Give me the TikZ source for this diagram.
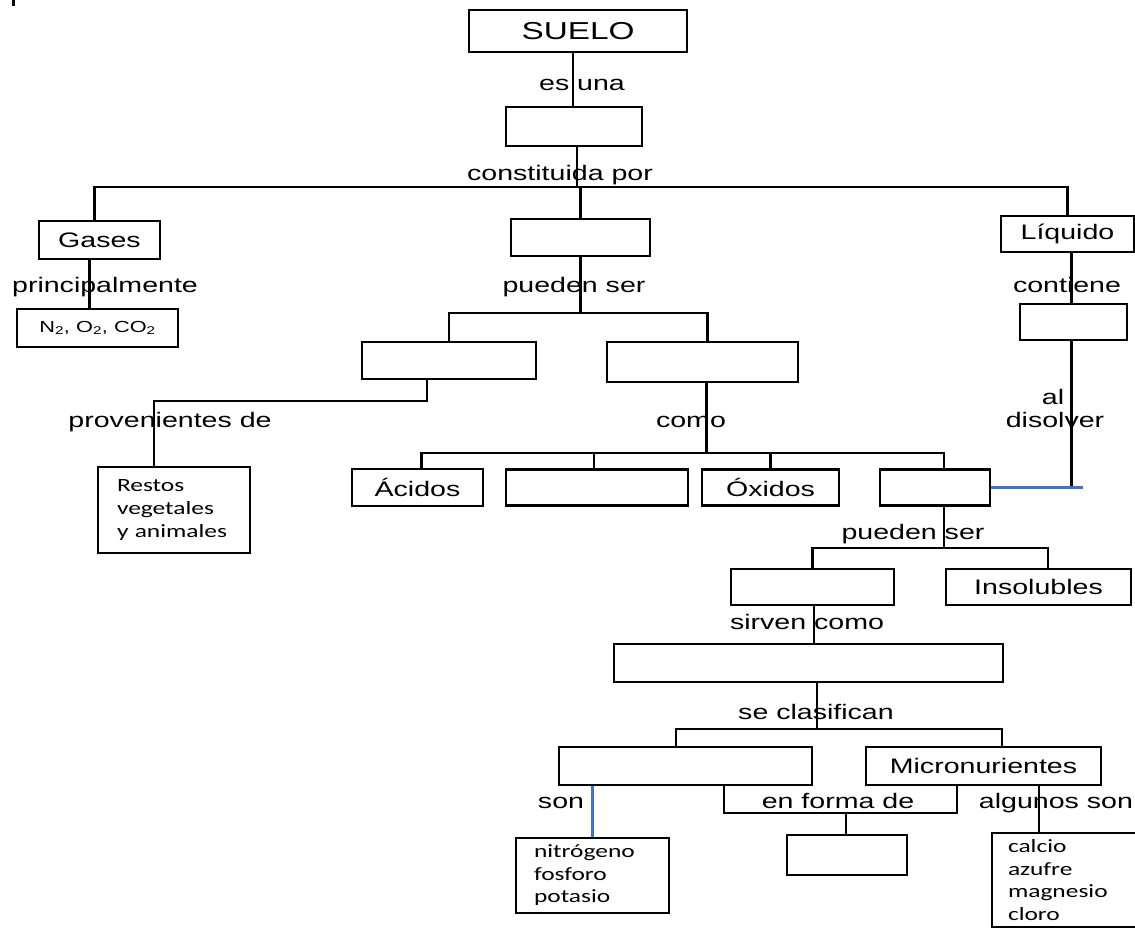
\documentclass[tikz,border=0pt]{standalone}
\usepackage{fontspec}
\setmainfont{Liberation Sans}[FakeStretch=1.36]
\newfontfamily\calfont{Carlito}[FakeStretch=1.36]
\usepackage{tikz}
\usetikzlibrary{positioning,calc}
\definecolor{lineblue}{HTML}{4472C4}

\begin{document}
\begin{tikzpicture}[
        x=1pt, y=-1pt,
        box/.style={rectangle, draw, line width=2.2pt, inner sep=0pt, font=\fontsize{21}{25}\selectfont},
        listbox/.style={box, align=left, inner xsep=17pt, font=\calfont\fontsize{18.7}{22.5}\selectfont},
        lbl/.style={inner sep=0pt, yshift=-3pt, text height=1.5ex, text depth=.25ex, font=\fontsize{21}{25}\selectfont},
        link/.style={line width=2.2pt},
        bluelink/.style={line width=2.2pt, lineblue}
    ]
        \useasboundingbox (0,0) rectangle (1135,929);
        \fill (12,0) rectangle (14.5,6);

        \node[box, minimum width=218pt, minimum height=42pt, font=\fontsize{24.5}{28}\selectfont] (suelo) at (578,31) {SUELO};
        \node[box, minimum width=136pt, minimum height=39pt] (esuna) at (574,126.5) {};
        \node[box, minimum width=121pt, minimum height=38pt] (gases) at (99.5,240) {Gases};
        \node[box, minimum width=161pt, minimum height=38pt, font=\fontsize{16}{19}\selectfont] (gaslist) at (97.5,328) {N\textsubscript{2}, O\textsubscript{2}, CO\textsubscript{2}};
        \node[box, minimum width=139pt, minimum height=37pt] (solidos) at (580.5,237.5) {};
        \node[box, minimum width=133pt, minimum height=36pt] (liquido) at (1067.5,234) {Líquido};
        \node[box, minimum width=107pt, minimum height=36pt] (liqbox) at (1073.5,322) {};
        \node[box, minimum width=174pt, minimum height=37pt] (organ) at (449,360.5) {};
        \node[box, minimum width=191pt, minimum height=40pt] (inorg) at (702.5,362) {};
        \node[listbox, inner xsep=19pt, text width=114pt, minimum height=86pt] (restos) at (174,510) {Restos\\vegetales\\y animales};
        \node[box, minimum width=131pt, minimum height=37pt] (acidos) at (417.5,487.5) {Ácidos};
        \node[box, minimum width=182pt, minimum height=36pt] (compuesto) at (597,487.5) {};
        \node[box, minimum width=137pt, minimum height=36pt] (oxidos) at (770.5,487.5) {Óxidos};
        \node[box, minimum width=110pt, minimum height=36pt] (sales) at (935,487.5) {};
        \node[box, minimum width=163pt, minimum height=36pt] (solubles) at (812.5,587) {};
        \node[box, minimum width=185pt, minimum height=36pt] (insol) at (1038.5,587) {Insolubles};
        \node[box, minimum width=389pt, minimum height=38pt] (nutri) at (808.5,663) {};
        \node[box, minimum width=253pt, minimum height=38pt] (macro) at (685.5,766) {};
        \node[box, minimum width=235pt, minimum height=38pt] (micro) at (983.5,766) {Micronurientes};
        \node[listbox, inner xsep=18pt, text width=117pt, minimum height=75pt] (nitro) at (592.5,875.5) {nitrógeno\\fosforo\\potasio};
        \node[box, minimum width=120pt, minimum height=40pt] (forma) at (847,855) {};
        \node[listbox, inner xsep=16pt, text width=128pt, minimum height=94pt] (calcio) at (1072,880) {calcio\\azufre\\magnesio\\cloro};

        \node[lbl] (lesuna) at (582,84) {es una};
        \node[lbl] (lconst) at (560,174) {constituida por};
        \node[lbl] (lprinc) at (105,286) {principalmente};
        \node[lbl] (lpueden) at (574,286) {pueden ser};
        \node[lbl] (lcontiene) at (1067,286) {contiene};
        \node[lbl] (lproven) at (170,421) {provenientes de};
        \node[lbl] (lcomo) at (691,421) {como};
        \node[lbl] (lal) at (1053,398) {al};
        \node[lbl] (ldisolver) at (1055,421) {disolver};
        \node[lbl] (lpueden2) at (913,533) {pueden ser};
        \node[lbl] (lsirven) at (807,623) {sirven como};
        \node[lbl] (lclasif) at (816,713) {se clasifican};
        \node[lbl] (lson) at (561,802) {son};
        \node[lbl] (lforma) at (838,802) {en forma de};
        \node[lbl] (lalgunos) at (1056,802) {algunos son};

        \coordinate (busA) at (0,187);
        \coordinate (busB) at (0,313);
        \coordinate (busC) at (0,401);
        \coordinate (busD) at (0,453);
        \coordinate (busE) at (0,548);
        \coordinate (busF) at (0,729);
        \coordinate (busG) at (0,813);
        \coordinate (disend) at (1083,0);

        \draw[link] ([xshift=-5pt]suelo.south) -- ([xshift=-1pt]esuna.north);
        \draw[link] ([xshift=3pt]esuna.south) -- ([xshift=3pt]esuna.south |- busA);
        \draw[link] ([xshift=-5pt]gases.north) |- (liquido.north |- busA) -- (liquido.north);
        \draw[link] (solidos.north) -- (solidos.north |- busA);
        \draw[link] ([xshift=-8pt]gaslist.north) -- ([xshift=-8pt]gaslist.north |- gases.south);
        \draw[link] (solidos.south) -- (solidos.south |- busB);
        \draw[link] (organ.north) |- ([xshift=5pt]inorg.north |- busB) -- ([xshift=5pt]inorg.north);
        \draw[link] ([xshift=-22pt]organ.south) -- ([xshift=-22pt]organ.south |- busC) -| ([xshift=-20pt]restos.north);
        \draw[link] ([xshift=4pt]inorg.south) -- ([xshift=4pt]inorg.south |- busD);
        \draw[link] ([xshift=4pt]acidos.north) |- ([xshift=9pt]sales.north |- busD) -- ([xshift=9pt]sales.north);
        \draw[link] ([xshift=-3pt]compuesto.north) -- ([xshift=-3pt]compuesto.north |- busD);
        \draw[link] (oxidos.north) -- (oxidos.north |- busD);
        \draw[link] ([xshift=-2pt]liqbox.north) -- ([xshift=-2pt]liqbox.north |- liquido.south);
        \draw[link] ([xshift=-2pt]liqbox.south) -- ([xshift=-2pt]liqbox.south |- sales.east);
        \draw[bluelink] (sales.east) -- (sales.east -| disend);
        \draw[link] ([xshift=9pt]sales.south) -- ([xshift=9pt]sales.south |- busE);
        \draw[link] (solubles.north) |- ([xshift=9.5pt]insol.north |- busE) -- ([xshift=9.5pt]insol.north);
        \draw[link] ([xshift=1.5pt]solubles.south) -- ([xshift=1.5pt]solubles.south |- nutri.north);
        \draw[link] ([xshift=8.5pt]nutri.south) -- ([xshift=8.5pt]nutri.south |- busF);
        \draw[link] ([xshift=-9.5pt]macro.north) |- ([xshift=18.5pt]micro.north |- busF) -- ([xshift=18.5pt]micro.north);
        \draw[bluelink] (nitro.north) -- (nitro.north |- macro.south);
        \draw[link] ([xshift=38.5pt]macro.south) |- ([xshift=-26.5pt]micro.south |- busG) -- ([xshift=-26.5pt]micro.south);
        \draw[link] ([xshift=-1pt]forma.north) -- ([xshift=-1pt]forma.north |- busG);
        \draw[link] ([xshift=55.5pt]micro.south) -- ([xshift=55.5pt]micro.south |- calcio.north);
    \end{tikzpicture}
\end{document}
